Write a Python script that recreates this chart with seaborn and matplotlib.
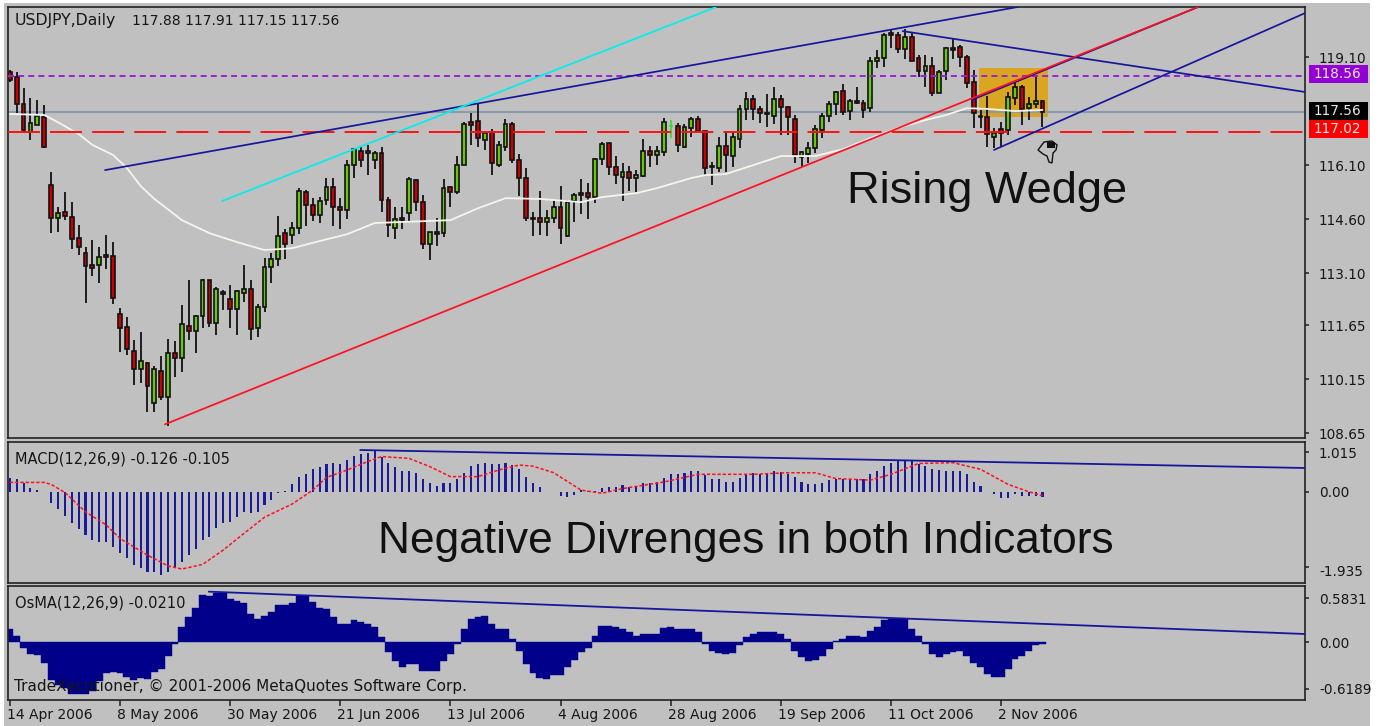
import numpy as np
import seaborn as sns
import matplotlib
matplotlib.use("Agg")
import matplotlib.pyplot as plt
from matplotlib.patches import Rectangle, Polygon
from matplotlib.transforms import ScaledTranslation

# daily USDJPY bars
opens = [118.68,118.54,117.79,117.02,117.21,117.43,115.54,114.63,114.79,114.65,
         114.07,113.66,113.32,113.32,113.60,113.57,111.96,111.60,110.93,110.43,
         110.60,109.49,110.38,109.66,110.88,110.74,111.63,111.49,111.90,112.91,
         111.71,112.57,112.38,112.10,112.54,112.66,111.57,112.15,113.27,113.49,
         114.21,114.15,114.35,115.35,114.99,114.71,115.13,115.49,114.93,114.85,
         116.10,116.49,116.43,116.24,116.43,115.13,114.35,114.63,114.77,115.68,
         115.07,113.91,114.24,114.21,115.49,115.35,116.10,117.29,117.32,116.79,
         117.02,116.10,116.60,117.24,116.24,115.74,114.63,114.63,114.52,114.63,
         114.93,114.13,115.10,115.32,115.32,115.21,116.27,116.71,116.04,115.77,
         115.90,115.74,115.79,116.49,116.38,116.46,117.18,117.18,116.60,117.13,
         117.38,117.04,116.07,116.02,116.63,116.35,116.82,117.66,117.93,117.66,
         117.54,117.46,117.93,117.71,117.38,116.32,116.40,116.57,117.07,117.46,
         117.79,118.16,117.60,117.88,117.82,117.68,118.99,119.07,119.77,119.71,
         119.32,119.66,119.07,118.71,118.85,118.10,118.71,119.35,119.38,119.10,
         118.40,117.46,117.43,116.88,117.10,117.07,117.96,118.27,117.68,117.79,
         117.88]
highs = [118.74,118.68,118.24,117.96,117.91,117.77,115.90,114.93,115.35,115.07,
         114.43,113.82,114.02,113.82,114.15,113.96,112.13,111.88,111.24,111.46,
         110.63,110.52,110.79,111.27,111.21,112.21,112.91,111.93,112.93,112.91,
         112.71,112.63,112.77,112.63,113.32,112.91,112.24,113.52,113.66,114.68,
         114.32,114.52,115.46,115.41,115.18,115.21,115.74,115.74,115.18,116.24,
         116.57,116.60,116.66,116.49,116.60,115.21,114.93,114.93,115.77,115.71,
         115.27,114.24,114.63,115.71,115.52,116.35,117.29,117.54,117.82,117.02,
         117.10,116.77,117.38,117.29,116.40,116.02,114.79,115.38,114.85,115.13,
         115.52,115.13,115.32,115.71,115.60,116.29,116.74,116.71,116.35,116.15,
         116.07,115.96,116.82,116.63,116.63,117.41,117.35,117.27,117.24,117.43,
         117.46,117.04,116.18,116.88,117.02,117.02,117.77,118.13,118.04,117.74,
         118.07,118.27,118.04,117.74,117.49,116.49,116.74,117.21,117.54,117.88,
         118.16,118.35,117.93,118.27,117.91,119.10,119.29,119.77,119.85,119.79,
         119.88,119.79,119.16,119.16,119.10,118.74,119.38,119.63,119.43,119.16,
         118.74,117.63,118.02,117.13,117.29,118.13,118.40,118.32,117.99,118.54,
         117.91]
lows = [118.40,117.54,117.02,116.79,117.21,116.57,114.21,114.24,114.57,113.77,
        113.60,112.27,113.02,112.82,113.21,112.24,110.90,110.82,109.99,110.04,
        109.24,109.24,109.57,108.85,110.21,110.35,111.24,110.88,111.57,111.60,
        111.38,112.07,111.57,111.38,112.29,111.24,111.32,112.01,112.82,113.29,
        113.49,113.91,114.18,114.40,114.54,114.49,114.99,114.40,114.32,114.60,
        115.74,116.04,115.82,115.99,114.79,114.10,114.04,114.32,114.54,114.82,
        113.77,113.46,113.85,114.10,114.93,115.29,116.10,116.66,116.60,116.52,
        115.82,116.04,116.49,116.16,115.24,114.54,114.13,114.15,114.13,114.49,
        113.91,114.10,114.52,114.74,114.60,115.04,116.10,115.82,115.57,115.10,
        115.38,115.35,115.77,116.04,116.10,116.35,116.85,116.46,116.57,116.88,
        117.04,115.82,115.54,115.90,115.90,116.04,116.57,117.35,117.35,117.27,
        117.16,117.24,116.93,116.93,116.16,116.04,116.16,116.43,116.85,117.29,
        117.49,117.49,117.35,117.79,117.41,117.57,118.79,118.82,119.35,119.21,
        119.04,118.99,118.54,118.27,118.02,118.10,118.46,119.04,118.82,118.24,
        117.13,117.13,116.60,116.57,116.60,116.93,117.77,117.21,117.35,117.68,
        117.15]
closes = [118.46,117.79,117.07,117.27,117.46,116.60,114.63,114.77,114.68,114.04,
          113.82,113.29,113.24,113.54,113.54,112.40,111.57,110.99,110.43,110.66,
          109.96,110.43,109.66,110.88,110.74,111.68,111.49,111.90,112.91,111.71,
          112.66,112.52,112.10,112.60,112.66,111.54,112.15,113.27,113.49,114.13,
          113.91,114.35,115.38,114.99,114.71,115.10,115.49,114.93,114.85,116.10,
          116.54,116.24,116.49,116.43,115.13,114.43,114.60,114.57,115.71,115.07,
          113.91,114.24,114.18,115.46,115.35,116.10,117.24,117.21,116.85,116.99,
          116.16,116.66,117.24,116.24,115.74,114.63,114.60,114.52,114.63,114.93,
          114.35,115.07,115.27,115.27,115.21,116.27,116.68,116.04,115.82,115.90,
          115.74,115.82,116.49,116.38,116.49,117.29,117.18,116.66,117.16,117.38,
          117.04,116.02,116.04,116.63,116.38,116.88,117.66,117.93,117.66,117.54,
          117.52,117.93,117.71,117.43,116.38,116.46,116.57,117.10,117.46,117.79,
          118.13,117.57,117.88,117.82,117.63,118.99,119.07,119.71,119.71,119.32,
          119.66,118.99,118.71,118.85,118.10,118.68,119.35,119.29,119.10,118.38,
          117.54,117.43,116.96,116.99,116.99,117.99,118.27,117.66,117.79,117.88,
          117.56]

ma_bars = [0,5,7,10,12,15,17,19,21,25,29,33,37,41,45,49,53,64,68,72,77,83,86,91,94,
           99,101,104,108,112,117,121,125,129,133,136,139,142,146,150]
ma_values = [117.52,117.49,117.29,116.96,116.66,116.38,116.02,115.52,115.16,114.57,
             114.21,113.96,113.74,113.79,113.99,114.18,114.49,114.57,114.90,115.18,
             115.16,115.07,115.21,115.32,115.46,115.74,115.82,115.85,116.10,116.35,
             116.35,116.54,116.85,117.13,117.35,117.49,117.68,117.66,117.60,117.63]

macd_hist = [0.36,0.32,0.22,0.09,0.04,0.00,-0.28,-0.46,-0.63,-0.80,
             -0.97,-1.12,-1.25,-1.29,-1.29,-1.42,-1.59,-1.72,-1.90,-1.98,
             -2.07,-2.07,-2.16,-2.07,-1.98,-1.81,-1.64,-1.47,-1.25,-1.16,
             -0.95,-0.80,-0.78,-0.65,-0.52,-0.54,-0.52,-0.34,-0.22,-0.03,
             0.03,0.19,0.39,0.47,0.58,0.63,0.72,0.75,0.72,0.82,
             0.93,0.97,1.01,1.06,0.91,0.75,0.63,0.53,0.53,0.49,
             0.32,0.22,0.15,0.23,0.23,0.34,0.49,0.66,0.71,0.75,
             0.72,0.72,0.75,0.69,0.58,0.37,0.23,0.11,0.00,-0.02,
             -0.11,-0.13,-0.09,0.04,0.02,0.01,0.09,0.13,0.13,0.17,
             0.13,0.13,0.23,0.23,0.26,0.36,0.45,0.45,0.49,0.53,
             0.53,0.43,0.32,0.32,0.26,0.26,0.36,0.43,0.49,0.47,
             0.47,0.53,0.52,0.46,0.37,0.26,0.19,0.19,0.23,0.30,
             0.32,0.34,0.32,0.32,0.32,0.45,0.53,0.66,0.75,0.82,
             0.82,0.82,0.72,0.66,0.58,0.56,0.53,0.53,0.53,0.45,
             0.26,0.15,0.00,-0.06,-0.15,-0.15,-0.07,-0.11,-0.11,-0.11,
             -0.126]
signal_bars = [0,5,6,8,11,14,16,20,23,25,28,31,34,37,41,44,46,49,52,54,58,61,64,68,71,
               74,76,79,83,86,89,95,100,108,113,117,120,125,128,132,137,141,145,148,150]
signal_values = [0.24,0.24,0.19,-0.02,-0.52,-0.86,-1.21,-1.64,-1.92,-2.00,-1.88,-1.51,
                 -1.08,-0.66,-0.32,0.04,0.37,0.56,0.78,0.91,0.86,0.65,0.39,0.39,0.56,
                 0.69,0.66,0.49,0.04,-0.04,0.08,0.25,0.45,0.45,0.49,0.49,0.34,0.30,
                 0.45,0.73,0.75,0.58,0.19,0.00,-0.105]

osma = [0.18,0.09,-0.07,-0.15,-0.17,-0.27,-0.50,-0.57,-0.61,-0.69,
        -0.69,-0.69,-0.65,-0.52,-0.41,-0.40,-0.41,-0.46,-0.50,-0.47,
        -0.49,-0.39,-0.35,-0.18,-0.02,0.20,0.33,0.45,0.63,0.61,
        0.66,0.66,0.58,0.55,0.52,0.37,0.31,0.35,0.40,0.49,
        0.50,0.52,0.62,0.62,0.54,0.46,0.44,0.33,0.24,0.24,
        0.29,0.27,0.24,0.20,0.07,-0.13,-0.25,-0.33,-0.29,-0.29,
        -0.38,-0.38,-0.38,-0.25,-0.15,-0.02,0.18,0.31,0.33,0.35,
        0.24,0.18,0.18,0.04,-0.11,-0.29,-0.41,-0.47,-0.49,-0.44,
        -0.44,-0.33,-0.24,-0.13,-0.07,0.09,0.21,0.22,0.20,0.18,
        0.13,0.09,0.11,0.11,0.11,0.19,0.20,0.18,0.18,0.18,
        0.13,-0.02,-0.11,-0.14,-0.16,-0.14,-0.04,0.07,0.11,0.13,
        0.13,0.13,0.11,0.04,-0.11,-0.20,-0.25,-0.23,-0.18,-0.09,
        0.02,0.04,0.09,0.09,0.07,0.15,0.20,0.30,0.31,0.31,
        0.31,0.18,0.09,-0.02,-0.15,-0.20,-0.15,-0.13,-0.11,-0.18,
        -0.27,-0.33,-0.42,-0.46,-0.46,-0.35,-0.22,-0.18,-0.11,-0.04,
        -0.021]

price_ticks = [119.10, 116.10, 114.60, 113.10, 111.65, 110.15, 108.65]
date_bars = [0, 16, 32, 48, 64, 80, 96, 112, 128, 144]
date_labels = ["14 Apr 2006", "8 May 2006", "30 May 2006", "21 Jun 2006", "13 Jul 2006",
               "4 Aug 2006", "28 Aug 2006", "19 Sep 2006", "11 Oct 2006", "2 Nov 2006"]

# trendlines drawn on the chart: (bar, price) end points
wedge_top = ([13.83, 146.4], [115.96, 120.49])
peak_down = ([129.7, 188.13], [119.82, 118.13])
cyan_line = ([30.82, 102.57], [115.10, 120.49])
wedge_low = ([22.54, 172.6], [108.90, 120.49])
chan_up = ([139.75, 172.6], [117.91, 120.49])
chan_low = ([142.95, 188.13], [116.52, 120.32])
macd_trend = ([50.9, 188.13], [1.078, 0.613])
osma_trend = ([28.9, 188.13], [0.672, 0.11])

GRAY = "#c0c0c0"
NAVY = "#00008b"
LINE_NAVY = "#16169a"
W, H = 1379, 726

sns.set_theme(style="white")
plt.rcParams["font.family"] = ["DejaVu Sans"]
plt.rcParams["lines.scale_dashes"] = False
plt.rcParams["axes.linewidth"] = 1.2
plt.rcParams["axes.edgecolor"] = "#222222"


def panel(left, top, right, bottom):
    return fig.add_axes([left / W, 1 - bottom / H, (right - left) / W, (bottom - top) / H],
                        facecolor=GRAY)


def label(x, y, txt, size=10.0, font="DejaVu Sans", color="#161616"):
    fig.text(x / W, 1 - y / H, txt, fontsize=size, family=font, color=color, va="center", zorder=20)


fig = plt.figure(figsize=(W / 100, H / 100), dpi=100, facecolor="white")
fig.add_artist(Rectangle((4 / W, 0), 1366 / W, 1 - 3 / H, transform=fig.transFigure,
                         facecolor=GRAY, edgecolor="none", zorder=-5))

ax = panel(8, 7, 1305, 438)
ax_macd = panel(8, 441.5, 1305, 582.7)
ax_osma = panel(8, 586, 1305, 700)

bars = np.arange(len(closes))
opens_a, closes_a = np.array(opens), np.array(closes)
up = closes_a >= opens_a
flat = np.abs(closes_a - opens_a) < 0.001

# candles
ax.add_patch(Rectangle((140.8, 117.43), 10, 1.36, facecolor="#daa520", edgecolor="none", zorder=1))
ax.vlines(bars[~flat], np.array(lows)[~flat], np.array(highs)[~flat], color="#111111", lw=1.3, zorder=2)
ax.vlines(bars[flat], np.array(lows)[flat], np.array(highs)[flat], color="#33dd22", lw=1.2, zorder=2)
ax.hlines(opens_a[flat], bars[flat] - 0.3, bars[flat] + 0.3, color="#33dd22", lw=1.2, zorder=2)
body_low = np.minimum(opens_a, closes_a)
body_high = np.abs(closes_a - opens_a)
ax.bar(bars[~flat & up], body_high[~flat & up], bottom=body_low[~flat & up], width=0.56,
       color="#66cc00", edgecolor="#111111", linewidth=1.2, zorder=2.5)
ax.bar(bars[~flat & ~up], body_high[~flat & ~up], bottom=body_low[~flat & ~up], width=0.56,
       color="#cc0000", edgecolor="#111111", linewidth=1.2, zorder=2.5)

sns.lineplot(x=ma_bars, y=ma_values, color="#f4f6ee", lw=1.3, ax=ax, zorder=3, errorbar=None)
ax.axhline(118.56, color="#9a20d8", lw=1.4, ls=(0, (4.3, 3.0)), zorder=4)
ax.axhline(117.56, color="#8a9aac", lw=1.5, zorder=1.5)
ax.axhline(117.02, color="#ff1010", lw=1.4, ls=(0, (23, 7.3)), zorder=4)
for line, col in [(wedge_top, LINE_NAVY), (peak_down, LINE_NAVY), (cyan_line, "#00eeee"),
                  (chan_up, LINE_NAVY), (chan_low, LINE_NAVY), (wedge_low, "#ff1020")]:
    sns.lineplot(x=line[0], y=line[1], color=col, lw=1.25, ax=ax, zorder=5, errorbar=None)

# macd panel
sns.barplot(x=bars, y=macd_hist, native_scale=True, width=0.3, color="#1a1a9c", saturation=1,
            linewidth=0, errorbar=None, ax=ax_macd, zorder=2)
sns.lineplot(x=signal_bars, y=signal_values, color="#ff1020", lw=1.1, ls=(0, (2.4, 1.4)),
             ax=ax_macd, zorder=3, errorbar=None)
sns.lineplot(x=macd_trend[0], y=macd_trend[1], color=LINE_NAVY, lw=1.3, ax=ax_macd, zorder=4, errorbar=None)

# osma panel
sns.barplot(x=bars, y=osma, native_scale=True, width=1.0, color=NAVY, saturation=1,
            linewidth=0.3, edgecolor=NAVY, errorbar=None, ax=ax_osma, zorder=2)
sns.lineplot(x=osma_trend[0], y=osma_trend[1], color=LINE_NAVY, lw=1.3, ax=ax_osma, zorder=4, errorbar=None)

ax.set_ylim(108.52, 120.49)
ax_macd.set_ylim(-2.353, 1.298)
ax_osma.set_ylim(-0.766, 0.747)

for a in (ax, ax_macd, ax_osma):
    a.set_xlim(-0.261, 188.13)
    a.set_xlabel("")
    a.set_ylabel("")
    a.set_xticks([])
    a.yaxis.tick_right()
    a.tick_params(axis="y", which="major", right=True, length=3, width=1.1, pad=7,
                  labelsize=9.8, labelcolor="#161616", color="#222222")

ax.set_yticks(price_ticks, [f"{p:.2f}" for p in price_ticks])
ax_macd.set_yticks([1.015, 0.0, -1.935], ["1.015", "0.00", "-1.935"])
ax_osma.set_yticks([0.5831, 0.0, -0.6189], ["0.5831", "0.00", "-0.6189"])
ax_macd.get_yticklabels()[2].set_transform(
    ax_macd.get_yticklabels()[2].get_transform() + ScaledTranslation(0, -4 / 100, fig.dpi_scale_trans))

ax_osma.set_xticks(date_bars, date_labels, ha="left")
ax_osma.tick_params(axis="x", bottom=True, length=4, width=1.1, pad=2, labelsize=10,
                    labelcolor="#161616", color="#222222")
shift = ScaledTranslation(-3 / 100, 0, fig.dpi_scale_trans)
for t in ax_osma.get_xticklabels():
    t.set_transform(t.get_transform() + shift)

# price boxes on the right
for center, col, txt in [(118.63, "#9400d3", "118.56"), (117.60, "#000000", "117.56"), (117.10, "#ff0000", "117.02")]:
    ax.add_patch(Rectangle((1.0031, center - 0.25), 0.0455, 0.5, transform=ax.get_yaxis_transform(),
                           facecolor=col, edgecolor="none", clip_on=False, zorder=6))
    ax.text(1.0068, center, txt, transform=ax.get_yaxis_transform(), color="#e8e8e8", fontsize=9.8,
            va="center", ha="left", zorder=7, clip_on=False)

label(15, 21, "USDJPY,Daily", size=11.3)
label(132, 21, "117.88 117.91 117.15 117.56", size=10)
label(15, 459, "MACD(12,26,9) -0.126 -0.105", size=10.5)
label(15, 603, "OsMA(12,26,9) -0.0210", size=10.5)
label(14, 686, "TradeXecutioner, © 2001-2006 MetaQuotes Software Corp.", size=11)
label(847, 191, "Rising Wedge", size=32.5, font="Liberation Sans", color="#111111")
label(378, 542, "Negative Divrenges in both Indicators", size=31.9, font="Liberation Sans", color="#111111")

# thumbs-down cursor
hand = [(1038, 150), (1044, 142), (1052, 141), (1057, 145), (1056, 150), (1053, 153),
        (1052, 163), (1049, 162), (1047, 156), (1043, 154)]
fig.add_artist(Polygon([(x / W, 1 - y / H) for x, y in hand], transform=fig.transFigure,
                       facecolor=GRAY, edgecolor="#111111", lw=1.0, zorder=15))
fig.add_artist(Rectangle((1047 / W, 1 - 148 / H), 8 / W, 6 / H, transform=fig.transFigure,
                         facecolor="#111111", edgecolor="none", zorder=16))

fig.savefig("out.png", dpi=100, facecolor="white")
